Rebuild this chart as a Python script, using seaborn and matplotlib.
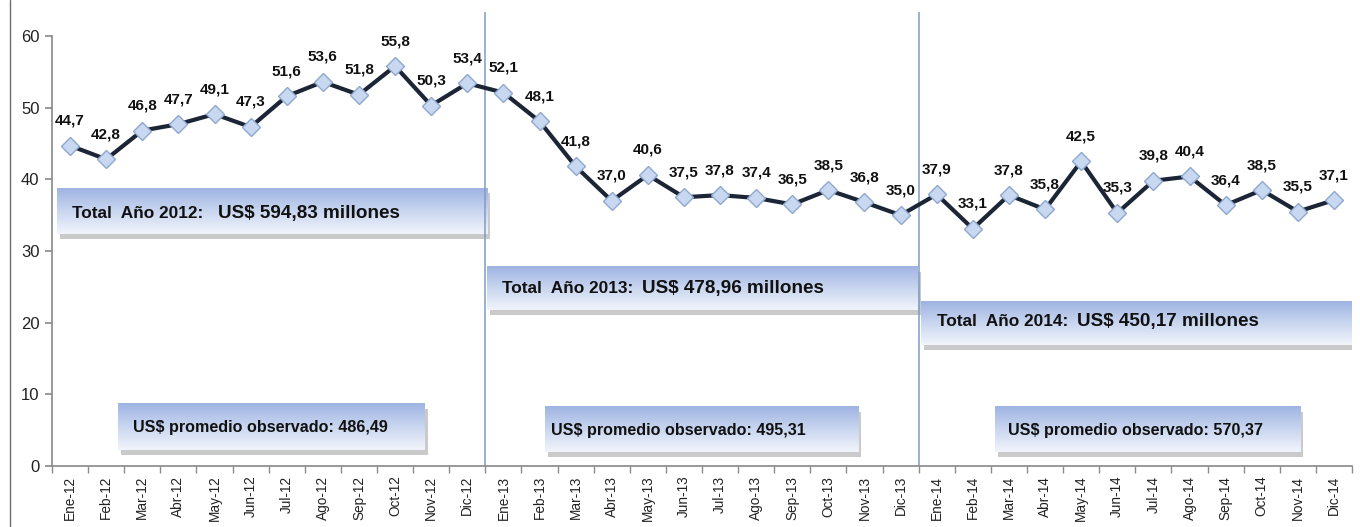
import numpy as np
import pandas as pd
import matplotlib
matplotlib.use('Agg')
import matplotlib.pyplot as plt
import matplotlib.transforms as mtransforms
from matplotlib.patches import Rectangle
from matplotlib.lines import Line2D
import seaborn as sns

# Datos mensuales (millones de US$)
meses = ['Ene-12', 'Feb-12', 'Mar-12', 'Abr-12', 'May-12', 'Jun-12', 'Jul-12', 'Ago-12', 'Sep-12', 'Oct-12', 'Nov-12', 'Dic-12',
         'Ene-13', 'Feb-13', 'Mar-13', 'Abr-13', 'May-13', 'Jun-13', 'Jul-13', 'Ago-13', 'Sep-13', 'Oct-13', 'Nov-13', 'Dic-13',
         'Ene-14', 'Feb-14', 'Mar-14', 'Abr-14', 'May-14', 'Jun-14', 'Jul-14', 'Ago-14', 'Sep-14', 'Oct-14', 'Nov-14', 'Dic-14']
valores_2012 = [44.7, 42.8, 46.8, 47.7, 49.1, 47.3, 51.6, 53.6, 51.8, 55.8, 50.3, 53.4]
valores_2013 = [52.1, 48.1, 41.8, 37.0, 40.6, 37.5, 37.8, 37.4, 36.5, 38.5, 36.8, 35.0]
valores_2014 = [37.9, 33.1, 37.8, 35.8, 42.5, 35.3, 39.8, 40.4, 36.4, 38.5, 35.5, 37.1]
anios = ['2012', '2013', '2014']
totales = ['594,83', '478,96', '450,17']
promedios = ['486,49', '495,31', '570,37']

valores = valores_2012 + valores_2013 + valores_2014
df = pd.DataFrame({'idx': np.arange(len(meses)), 'mes': meses, 'valor': valores})

sns.set_theme(style='white')
plt.rcParams['font.family'] = ['Liberation Sans', 'DejaVu Sans']

fig = plt.figure(figsize=(13.6, 5.27), dpi=100)
ax = fig.add_axes([52 / 1360, 1 - 466 / 527, 1300 / 1360, 454 / 527])

# caja con degradado y sombra
def caja(x0, x1, y0, y1):
    sombra = mtransforms.offset_copy(ax.transData, fig=fig, x=3, y=-5, units='dots')
    ax.add_patch(Rectangle((x0, y0), x1 - x0, y1 - y0, transform=sombra,
                           facecolor='#8a8a8a', alpha=0.45, edgecolor='none', zorder=1))
    grad = np.linspace(0, 1, 64).reshape(-1, 1)
    cmap = matplotlib.colors.LinearSegmentedColormap.from_list('g', ['#9fb4e2', '#c9d6f0', '#f1f4fb'])
    ax.imshow(grad, cmap=cmap, extent=(x0, x1, y0, y1), origin='upper',
              aspect='auto', zorder=2, interpolation='bicubic')

cajas_total = [(-0.36, 11.55, 32.4, 38.8), (11.55, 23.48, 21.7, 27.8), (23.57, 35.5, 16.9, 23.0)]
cajas_prom = [(1.33, 9.83, 2.23, 8.65), (13.15, 21.82, 1.95, 8.23), (25.61, 34.06, 1.95, 8.23)]
pos_total = [(0.05, 4.09, 35.3), (11.96, 15.84, 24.8), (24.0, 27.88, 20.1)]
pos_prom = [(1.74, 5.44), (13.32, 4.9), (25.97, 4.9)]

for i in range(3):
    caja(*cajas_total[i])
    caja(*cajas_prom[i])
    xa, xb, yt = pos_total[i]
    ax.text(xa, yt, f'Total  Año {anios[i]}:', fontsize=12.4, fontweight='bold',
            color='#111111', va='center', ha='left', zorder=3)
    ax.text(xb, yt, f'US$ {totales[i]} millones', fontsize=13.6, fontweight='bold',
            color='#111111', va='center', ha='left', zorder=3)
    xp, yp = pos_prom[i]
    ax.text(xp, yp, f'US$ promedio observado: {promedios[i]}', fontsize=11.6, fontweight='bold',
            color='#111111', va='center', ha='left', zorder=3)

# separadores de año
for xs in [11.5, 23.5]:
    ax.axvline(xs, ymin=0, ymax=1, color='#7d9cc6', lw=1.1, zorder=2.5)

sns.lineplot(data=df, x='idx', y='valor', ax=ax, color='#1b2536', lw=3, sort=False,
             marker='D', markersize=9, markerfacecolor='#c8d8f0', markeredgecolor='#8ea8cf',
             markeredgewidth=1, zorder=4)

for i, v in zip(df['idx'], df['valor']):
    ax.annotate(f'{v:.1f}'.replace('.', ','), (i, v), xytext=(0, 13), textcoords='offset points',
                ha='center', va='bottom', fontsize=11, fontweight='bold', color='#111111', zorder=5)

ax.set_xlim(-0.5, 35.5)
ax.set_ylim(0, 60 + 24 / 7.167)
ax.set_yticks(np.arange(0, 61, 10))
ax.set_xticks(df['idx'])
ax.set_xticklabels(meses, rotation=90, fontsize=9.8, color='#222222')
ax.set_xticks(np.arange(-0.5, 36, 1), minor=True)
ax.tick_params(axis='x', which='major', length=0, pad=7)
ax.tick_params(axis='x', which='minor', length=5, color='#8c8c8c', direction='out', bottom=True)
ax.tick_params(axis='y', length=5, color='#8c8c8c', direction='out', left=True, labelsize=12, pad=4)
for lbl in ax.get_yticklabels():
    lbl.set_color('#222222')
ax.set_xlabel('')
ax.set_ylabel('')
for s in ['top', 'right']:
    ax.spines[s].set_visible(False)
ax.spines['left'].set_bounds(0, 60)
ax.spines['left'].set_color('#8c8c8c')
ax.spines['bottom'].set_color('#8c8c8c')

fig.add_artist(Line2D([10 / 1360, 10 / 1360], [0, 1], transform=fig.transFigure, color='#6e6e6e', lw=1))

fig.savefig('out.png', dpi=100)
